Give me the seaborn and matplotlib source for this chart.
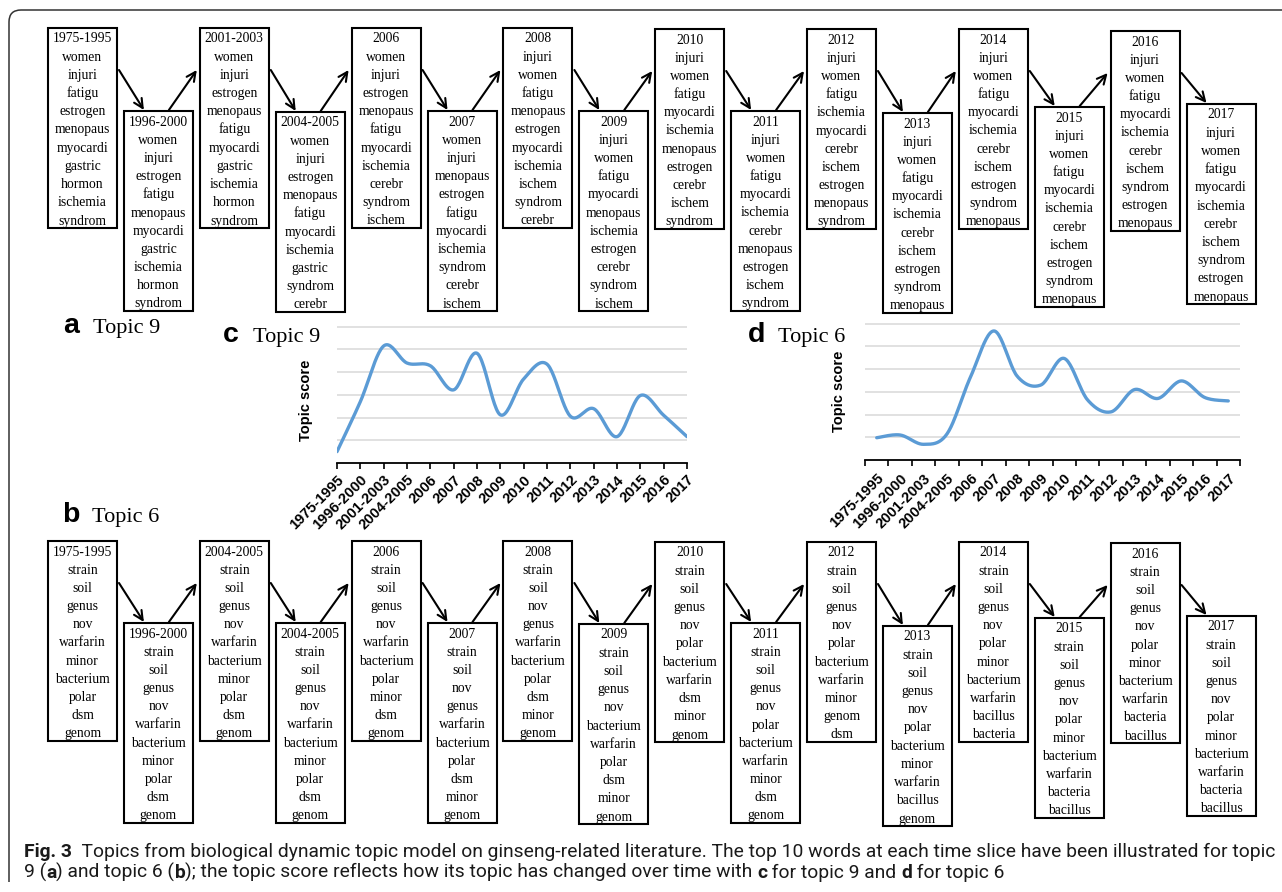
import numpy as np
import seaborn as sns
import matplotlib.pyplot as plt
from matplotlib.patches import Rectangle, PathPatch
from matplotlib.path import Path


periods = ['1975-1995', '1996-2000', '2001-2003', '2004-2005', '2006', '2007', '2008', '2009',
           '2010', '2011', '2012', '2013', '2014', '2015', '2016', '2017']

topic9_words = [
    ['women', 'injuri', 'fatigu', 'estrogen', 'menopaus', 'myocardi', 'gastric', 'hormon', 'ischemia', 'syndrom'],
    ['women', 'injuri', 'estrogen', 'fatigu', 'menopaus', 'myocardi', 'gastric', 'ischemia', 'hormon', 'syndrom'],
    ['women', 'injuri', 'estrogen', 'menopaus', 'fatigu', 'myocardi', 'gastric', 'ischemia', 'hormon', 'syndrom'],
    ['women', 'injuri', 'estrogen', 'menopaus', 'fatigu', 'myocardi', 'ischemia', 'gastric', 'syndrom', 'cerebr'],
    ['women', 'injuri', 'estrogen', 'menopaus', 'fatigu', 'myocardi', 'ischemia', 'cerebr', 'syndrom', 'ischem'],
    ['women', 'injuri', 'menopaus', 'estrogen', 'fatigu', 'myocardi', 'ischemia', 'syndrom', 'cerebr', 'ischem'],
    ['injuri', 'women', 'fatigu', 'menopaus', 'estrogen', 'myocardi', 'ischemia', 'ischem', 'syndrom', 'cerebr'],
    ['injuri', 'women', 'fatigu', 'myocardi', 'menopaus', 'ischemia', 'estrogen', 'cerebr', 'syndrom', 'ischem'],
    ['injuri', 'women', 'fatigu', 'myocardi', 'ischemia', 'menopaus', 'estrogen', 'cerebr', 'ischem', 'syndrom'],
    ['injuri', 'women', 'fatigu', 'myocardi', 'ischemia', 'cerebr', 'menopaus', 'estrogen', 'ischem', 'syndrom'],
    ['injuri', 'women', 'fatigu', 'ischemia', 'myocardi', 'cerebr', 'ischem', 'estrogen', 'menopaus', 'syndrom'],
    ['injuri', 'women', 'fatigu', 'myocardi', 'ischemia', 'cerebr', 'ischem', 'estrogen', 'syndrom', 'menopaus'],
    ['injuri', 'women', 'fatigu', 'myocardi', 'ischemia', 'cerebr', 'ischem', 'estrogen', 'syndrom', 'menopaus'],
    ['injuri', 'women', 'fatigu', 'myocardi', 'ischemia', 'cerebr', 'ischem', 'estrogen', 'syndrom', 'menopaus'],
    ['injuri', 'women', 'fatigu', 'myocardi', 'ischemia', 'cerebr', 'ischem', 'syndrom', 'estrogen', 'menopaus'],
    ['injuri', 'women', 'fatigu', 'myocardi', 'ischemia', 'cerebr', 'ischem', 'syndrom', 'estrogen', 'menopaus'],
]

# the third box of topic 6 is labelled 2004-2005 in the original figure
topic6_headers = ['1975-1995', '1996-2000', '2004-2005', '2004-2005', '2006', '2007', '2008', '2009',
                  '2010', '2011', '2012', '2013', '2014', '2015', '2016', '2017']

topic6_words = [
    ['strain', 'soil', 'genus', 'nov', 'warfarin', 'minor', 'bacterium', 'polar', 'dsm', 'genom'],
    ['strain', 'soil', 'genus', 'nov', 'warfarin', 'bacterium', 'minor', 'polar', 'dsm', 'genom'],
    ['strain', 'soil', 'genus', 'nov', 'warfarin', 'bacterium', 'minor', 'polar', 'dsm', 'genom'],
    ['strain', 'soil', 'genus', 'nov', 'warfarin', 'bacterium', 'minor', 'polar', 'dsm', 'genom'],
    ['strain', 'soil', 'genus', 'nov', 'warfarin', 'bacterium', 'polar', 'minor', 'dsm', 'genom'],
    ['strain', 'soil', 'nov', 'genus', 'warfarin', 'bacterium', 'polar', 'dsm', 'minor', 'genom'],
    ['strain', 'soil', 'nov', 'genus', 'warfarin', 'bacterium', 'polar', 'dsm', 'minor', 'genom'],
    ['strain', 'soil', 'genus', 'nov', 'bacterium', 'warfarin', 'polar', 'dsm', 'minor', 'genom'],
    ['strain', 'soil', 'genus', 'nov', 'polar', 'bacterium', 'warfarin', 'dsm', 'minor', 'genom'],
    ['strain', 'soil', 'genus', 'nov', 'polar', 'bacterium', 'warfarin', 'minor', 'dsm', 'genom'],
    ['strain', 'soil', 'genus', 'nov', 'polar', 'bacterium', 'warfarin', 'minor', 'genom', 'dsm'],
    ['strain', 'soil', 'genus', 'nov', 'polar', 'bacterium', 'minor', 'warfarin', 'bacillus', 'genom'],
    ['strain', 'soil', 'genus', 'nov', 'polar', 'minor', 'bacterium', 'warfarin', 'bacillus', 'bacteria'],
    ['strain', 'soil', 'genus', 'nov', 'polar', 'minor', 'bacterium', 'warfarin', 'bacteria', 'bacillus'],
    ['strain', 'soil', 'genus', 'nov', 'polar', 'minor', 'bacterium', 'warfarin', 'bacteria', 'bacillus'],
    ['strain', 'soil', 'genus', 'nov', 'polar', 'minor', 'bacterium', 'warfarin', 'bacteria', 'bacillus'],
]

topic9_score = [0.5, 2.7, 5.15, 4.4, 4.28, 3.22, 4.83, 2.12, 3.7, 4.35, 2.06, 2.39, 1.16, 2.97, 2.1, 1.16]
topic6_score = [0.98, 1.1, 0.69, 1.15, 3.65, 5.68, 3.68, 3.3, 4.47, 2.64, 2.12, 3.1, 2.71, 3.48, 2.75, 2.6]


sns.set_style('white')
plt.rcParams['font.family'] = ['Liberation Sans', 'DejaVu Sans']
plt.rcParams['text.color'] = 'black'
plt.rcParams['axes.labelcolor'] = 'black'
plt.rcParams['xtick.color'] = 'black'

W, H = 1282, 892
fig = plt.figure(figsize=(W / 100, H / 100), dpi=100)
fig.patch.set_facecolor('white')

# full-figure layer in pixel units for the word boxes, arrows, labels and caption
canvas = fig.add_axes([0, 0, 1, 1])
canvas.set_xlim(0, W)
canvas.set_ylim(H, 0)
canvas.axis('off')

# frame with rounded top-left corner
frame = Path([(9, 882), (9, 22), (9, 10), (21, 10), (1295, 10)],
             [Path.MOVETO, Path.LINETO, Path.CURVE3, Path.CURVE3, Path.LINETO])
canvas.add_patch(PathPatch(frame, fill=False, ec='#333333', lw=1.1))


def draw_row(headers, words, tops):
    for i, (head, ws) in enumerate(zip(headers, words)):
        left = 48 + 75.9 * i
        canvas.add_patch(Rectangle((left, tops[i]), 69, 200, fill=False, ec='black', lw=1.5))
        for k, s in enumerate([head] + ws):
            canvas.text(left + 34.5, tops[i] + 14.5 + 18.2 * k, s, ha='center', va='baseline',
                        family='Liberation Serif', size=9.8, color='black')
        if i == len(headers) - 1:
            continue
        nxt = 48 + 75.9 * (i + 1)
        if i % 2 == 0:
            start, end = (left + 71, tops[i] + 42), (nxt + 20, tops[i + 1] - 1)
        else:
            start, end = (left + 45, tops[i] - 1), (nxt - 3, tops[i + 1] + 42)
        canvas.annotate('', xy=end, xytext=start,
                        arrowprops=dict(arrowstyle='->,head_length=0.65,head_width=0.32',
                                        color='black', lw=1.5, shrinkA=0, shrinkB=0))


draw_row(periods, topic9_words, [28, 111, 28, 112, 28, 111, 28, 111, 29, 111, 29, 113, 29, 107, 31, 104])
draw_row(topic6_headers, topic6_words, [541, 623, 541, 623, 541, 623, 541, 624, 542, 623, 542, 626, 542, 618, 543, 616])


def panel_label(x, y, letter, title):
    canvas.text(x, y, letter, weight='bold', size=20.5, family='Liberation Sans', va='baseline',
                color='black')
    canvas.text(x + 30, y, title, size=16, family='Liberation Serif', va='baseline', color='black')


panel_label(63, 333, 'a', 'Topic 9')
panel_label(62, 522, 'b', 'Topic 6')
panel_label(223, 342, 'c', 'Topic 9')
panel_label(748, 342, 'd', 'Topic 6')


def smooth(x, y, n=24):
    # Excel-style smoothed line: cubic Bezier through every point
    p = np.column_stack([x, y]).astype(float)
    pp = np.vstack([p[0], p, p[-1]])
    t = np.linspace(0, 1, n, endpoint=False)[:, None]
    parts = []
    for i in range(len(p) - 1):
        p0, p1, p2, p3 = pp[i], pp[i + 1], pp[i + 2], pp[i + 3]
        c1 = p1 + (p2 - p0) / 6
        c2 = p2 - (p3 - p1) / 6
        parts.append((1 - t) ** 3 * p1 + 3 * (1 - t) ** 2 * t * c1 + 3 * (1 - t) * t ** 2 * c2 + t ** 3 * p2)
    parts.append(p[-1:])
    res = np.vstack(parts)
    return res[:, 0], res[:, 1]


def topic_chart(left, top, right, bottom, scores, on_ticks, label_xy):
    ax = fig.add_axes([left / W, 1 - bottom / H, (right - left) / W, (bottom - top) / H])
    ax.set_facecolor('none')
    x = np.arange(len(periods))
    xs, ys = smooth(x, scores)
    sns.lineplot(x=xs, y=ys, ax=ax, color='#5b9bd5', lw=2.4, sort=False, estimator=None)

    ax.set_ylim(0, 6.03)
    ax.set_yticks(range(1, 7))
    ax.set_yticklabels([])
    ax.tick_params(axis='y', length=0)
    ax.yaxis.grid(True, color='#d9d9d9', lw=1.1)
    ax.xaxis.grid(False)
    ax.set_axisbelow(True)
    for s in ['left', 'top', 'right']:
        ax.spines[s].set_visible(False)
    ax.spines['bottom'].set_color('black')
    ax.spines['bottom'].set_linewidth(1.3)

    if on_ticks:
        ax.set_xlim(0, len(periods) - 1)
        ax.set_xticks(x, periods)
        ax.tick_params(axis='x', which='major', bottom=True, direction='out', length=4,
                       width=1.2, color='black', pad=3)
        labels = ax.get_xticklabels()
    else:
        ax.set_xlim(-0.5, len(periods) - 0.5)
        edges = np.arange(-0.5, len(periods), 1)
        ax.set_xticks(edges, [''] * len(edges))
        ax.set_xticks(x, periods, minor=True)
        ax.tick_params(axis='x', which='major', bottom=True, direction='out', length=4,
                       width=1.2, color='black')
        ax.tick_params(axis='x', which='minor', bottom=True, length=0, pad=8)
        labels = ax.get_xticklabels(minor=True)
    for lab in labels:
        lab.set(rotation=45, ha='right', rotation_mode='anchor', fontweight='bold',
                fontsize=10.5, color='black')

    ax.set_xlabel('')
    ax.set_ylabel('Topic score', fontweight='bold', fontsize=10.5, color='black')
    ax.yaxis.set_label_coords(*label_xy)
    return ax


topic_chart(337, 326, 687, 463, topic9_score, True, (-0.068, 0.46))
topic_chart(865, 323, 1240, 460, topic6_score, False, (-0.052, 0.5))


# caption, mixed bold / regular runs fitted to the frame width
cap_font = ['Roboto', 'DejaVu Sans']
line1 = [('Fig. 3', True),
         ('  Topics from biological dynamic topic model on ginseng-related literature. '
          'The top 10 words at each time slice have been illustrated for topic', False)]
line2 = [('9 (', False), ('a', True), (') and topic 6 (', False), ('b', True),
         ('); the topic score reflects how its topic has changed over time with ', False),
         ('c', True), (' for topic 9 and ', False), ('d', True), (' for topic 6', False)]

renderer = fig.canvas.get_renderer()


def run_width(s, bold, size):
    w = 0
    for probe in ['x' + s + 'x', 'xx']:
        t = fig.text(0, 0, probe, size=size, family=cap_font, weight='bold' if bold else 'normal')
        ext = t.get_window_extent(renderer).width
        t.remove()
        w = ext if probe != 'xx' else w - ext
    return w


base = 10
cap_size = base * 1248 / sum(run_width(s, b, base) for s, b in line1)


def rich_line(x, y, parts):
    for s, bold in parts:
        canvas.text(x, y, s, size=cap_size, family=cap_font, weight='bold' if bold else 'normal',
                    va='baseline', color='#1a1a1a')
        x += run_width(s, bold, cap_size)


rich_line(24, 857, line1)
rich_line(24, 878, line2)

fig.savefig('out.png', dpi=100)
